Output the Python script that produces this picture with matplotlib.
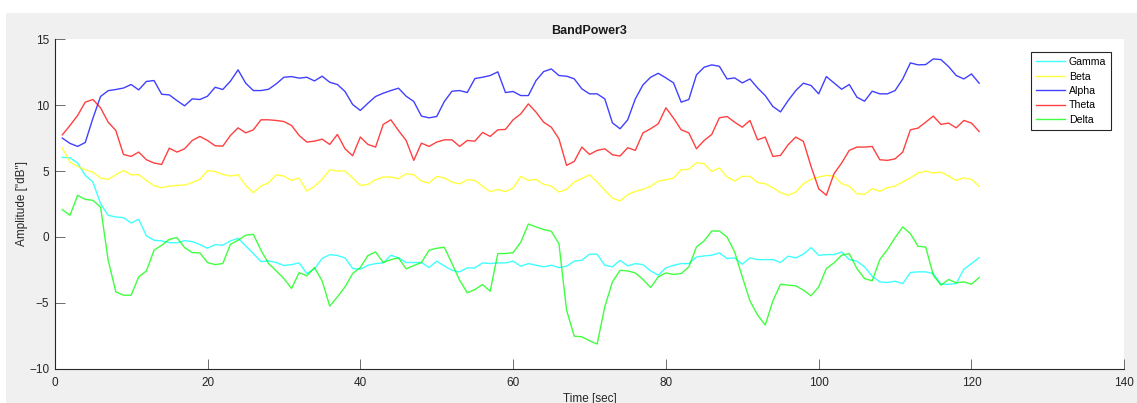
import numpy as np
import matplotlib
matplotlib.use("Agg")
import matplotlib.pyplot as plt
from matplotlib.patches import Rectangle

plt.rcParams['font.family'] = ['Liberation Sans', 'DejaVu Sans']

# time in seconds, one sample per second
t = np.arange(1, 122)

gamma = [6.04, 6.01, 5.61, 4.67, 4.17, 2.53, 1.64, 1.52, 1.46, 1.06, 1.34, 0.08, -0.25, -0.30, -0.43, -0.45, -0.28, -0.35, -0.58, -0.86, -0.58,
         -0.63, -0.30, -0.10, -0.68, -1.26, -1.87, -1.82, -1.94, -2.17, -2.10, -1.97, -2.78, -2.42, -1.64, -1.34, -1.41, -1.59, -2.40, -2.45, -2.15, -2.02,
         -1.97, -1.39, -1.59, -1.94, -1.94, -1.94, -2.32, -1.84, -2.20, -2.53, -2.65, -2.35, -2.35, -1.97, -2.02, -1.97, -1.97, -1.84, -2.22, -2.02, -2.15,
         -2.27, -2.15, -2.32, -2.22, -1.84, -1.77, -1.31, -1.31, -2.15, -2.27, -1.77, -2.20, -2.02, -2.10, -2.58, -2.90, -2.35, -2.15, -2.02, -2.02, -1.52,
         -1.44, -1.39, -1.21, -1.64, -1.59, -2.07, -1.59, -1.72, -1.72, -1.72, -1.94, -1.46, -1.59, -1.31, -0.81, -1.39, -1.34, -1.34, -1.14, -1.72, -1.84,
         -2.27, -2.98, -3.41, -3.46, -3.36, -3.54, -2.70, -2.65, -2.65, -2.78, -3.59, -3.59, -3.54, -2.45, -2.02, -1.57]

beta = [6.74, 5.68, 5.35, 5.10, 4.92, 4.47, 4.37, 4.72, 5.05, 4.72, 4.72, 4.29, 3.89, 3.74, 3.86, 3.91, 3.94, 4.12, 4.37, 5.03, 4.97,
        4.75, 4.62, 4.72, 3.91, 3.36, 3.86, 4.12, 4.72, 4.62, 4.29, 4.47, 3.48, 3.84, 4.37, 5.10, 5.00, 5.00, 4.49, 3.91, 3.99, 4.34,
        4.55, 4.55, 4.42, 4.80, 4.72, 4.24, 4.09, 4.60, 4.47, 4.17, 4.02, 4.34, 4.29, 3.86, 3.43, 3.61, 3.43, 3.71, 4.60, 4.29, 4.37,
        3.99, 3.86, 3.41, 3.61, 4.17, 4.42, 4.72, 4.17, 3.54, 2.95, 2.73, 3.21, 3.46, 3.61, 3.84, 4.24, 4.34, 4.47, 5.10, 5.13, 5.63,
        5.56, 4.97, 5.23, 4.55, 4.24, 4.60, 4.60, 4.12, 4.04, 3.74, 3.36, 3.16, 3.41, 4.04, 4.37, 4.55, 4.67, 4.62, 4.04, 3.86, 3.28,
        3.23, 3.66, 3.46, 3.74, 3.86, 4.17, 4.49, 4.85, 5.00, 4.85, 4.92, 4.62, 4.29, 4.49, 4.37, 3.84]

alpha = [7.50, 7.10, 6.87, 7.17, 9.00, 10.66, 11.10, 11.19, 11.30, 11.57, 11.16, 11.80, 11.87, 10.83, 10.78, 10.35, 9.95, 10.48, 10.43, 10.68, 11.36,
         11.19, 11.82, 12.68, 11.67, 11.11, 11.11, 11.21, 11.62, 12.12, 12.17, 12.05, 12.12, 11.84, 12.20, 11.74, 11.57, 11.04, 10.05, 9.60, 10.15, 10.66,
         10.91, 11.11, 11.29, 10.68, 10.28, 9.17, 9.04, 9.14, 10.28, 11.06, 11.11, 10.96, 12.02, 12.12, 12.25, 12.53, 10.96, 11.04, 10.73, 10.73, 11.87,
         12.55, 12.75, 12.25, 12.20, 12.00, 11.24, 10.86, 10.86, 10.48, 8.66, 8.21, 8.89, 10.48, 11.54, 12.12, 12.42, 12.07, 11.69, 10.23, 10.43, 12.30,
         12.88, 13.06, 12.95, 11.99, 12.07, 11.69, 11.99, 11.31, 10.73, 9.90, 9.49, 10.35, 11.11, 11.67, 11.49, 10.86, 12.17, 11.69, 11.21, 11.57, 10.61,
         10.30, 11.06, 10.86, 10.86, 11.11, 11.99, 13.21, 13.06, 13.08, 13.51, 13.46, 12.93, 12.25, 11.99, 12.37, 11.67]

theta = [7.75, 8.46, 9.22, 10.23, 10.43, 9.80, 8.71, 8.08, 6.26, 6.11, 6.44, 5.86, 5.61, 5.50, 6.74, 6.44, 6.69, 7.32, 7.63, 7.32, 6.92,
         6.89, 7.70, 8.28, 7.90, 8.13, 8.89, 8.89, 8.84, 8.76, 8.46, 7.70, 7.20, 7.27, 7.42, 7.02, 7.78, 6.69, 6.16, 7.58, 7.02, 6.82,
         8.54, 8.89, 8.08, 7.32, 5.81, 7.12, 6.87, 7.20, 7.37, 7.37, 6.87, 7.32, 7.27, 7.93, 7.63, 8.13, 8.16, 8.89, 9.34, 10.10, 9.47,
         8.71, 8.33, 7.45, 5.43, 5.73, 6.82, 6.26, 6.57, 6.69, 6.24, 6.14, 6.77, 6.57, 7.90, 8.21, 8.59, 9.80, 9.02, 8.13, 7.90, 6.69,
         7.32, 7.78, 9.04, 9.14, 8.71, 8.33, 8.84, 7.37, 7.58, 6.11, 6.19, 7.00, 7.58, 7.25, 5.35, 3.66, 3.16, 4.80, 5.61, 6.57, 6.82,
         6.82, 6.87, 5.86, 5.81, 5.93, 6.44, 8.13, 8.26, 8.71, 9.17, 8.54, 8.64, 8.28, 8.84, 8.64, 8.00]

delta = [2.07, 1.64, 3.16, 2.85, 2.78, 2.27, -1.77, -4.17, -4.42, -4.42, -3.03, -2.58, -1.01, -0.63, -0.18, -0.05, -0.81, -1.19, -1.21, -1.94, -2.10,
         -2.02, -0.56, -0.25, 0.13, 0.20, -1.01, -2.02, -2.58, -3.16, -3.91, -2.70, -2.95, -2.32, -3.33, -5.25, -4.55, -3.79, -2.78, -2.32, -1.41, -1.14,
         -1.94, -1.72, -1.59, -2.42, -2.17, -1.94, -1.01, -0.86, -0.78, -2.02, -3.28, -4.24, -3.99, -3.61, -4.12, -1.26, -1.26, -1.19, -0.40, 0.98, 0.76,
         0.56, 0.43, -0.51, -5.56, -7.53, -7.58, -7.88, -8.13, -5.30, -3.41, -2.53, -2.58, -2.73, -3.23, -3.84, -3.03, -2.73, -2.85, -2.78, -2.27, -0.76,
         -0.30, 0.45, 0.45, 0.00, -1.14, -3.03, -4.85, -5.93, -6.69, -4.85, -3.59, -3.66, -3.71, -4.04, -4.47, -3.79, -2.40, -1.97, -1.39, -1.26, -2.40,
         -3.16, -3.33, -1.72, -0.96, -0.05, 0.76, 0.25, -0.71, -0.76, -2.90, -3.66, -3.23, -3.48, -3.41, -3.59, -3.08]

names = ['Gamma', 'Beta', 'Alpha', 'Theta', 'Delta']
colors = ['#00ffff', '#ffff00', '#0000ff', '#ff0000', '#00ff00']

W, H = 1137, 403
fig = plt.figure(figsize=(W / 100, H / 100), dpi=100, facecolor='white')
# matlab style grey figure background (white strip on top/left)
fig.patches.append(Rectangle((6 / W, 0), 1, (H - 13) / H, transform=fig.transFigure,
                             facecolor='#f0f0f0', edgecolor='none', zorder=-10))

ax = fig.add_axes([54.7 / W, 1 - 368.7 / H, 1069.6 / W, 329.4 / H])
ax.set_facecolor('white')

for y, name, c in zip([gamma, beta, alpha, theta, delta], names, colors):
    ax.plot(t, y, color=c, lw=1.0, alpha=0.75, label=name)

ax.set_xlim(0, 140)
ax.set_ylim(-10, 15)
ax.set_xticks(np.arange(0, 141, 20))
ax.set_yticks(np.arange(-10, 16, 5))

for s in ['top', 'right']:
    ax.spines[s].set_visible(False)
for s in ['left', 'bottom']:
    ax.spines[s].set_color('#262626')
    ax.spines[s].set_linewidth(0.8)

ax.tick_params(direction='in', length=7.5, width=0.6, color='#555555',
               labelsize=8.5, labelcolor='#262626')
ax.tick_params(axis='x', pad=6)
ax.tick_params(axis='y', pad=4)

ax.set_title('BandPower3', fontsize=9, fontweight='bold', pad=4, color='#1a1a1a')
ax.set_xlabel('Time [sec]', fontsize=8.5, color='#262626', labelpad=3)
ax.set_ylabel('Amplitude [\'\'dB\'\']', fontsize=8.5, color='#262626')
ax.yaxis.set_label_coords(-0.025, 0.5)

leg = ax.legend(loc='upper right', bbox_to_anchor=(0.988, 0.962), borderaxespad=0,
                fontsize=7.6, fancybox=False, framealpha=1, edgecolor='#262626',
                handlelength=2.75, handletextpad=0.35, labelspacing=0.42,
                borderpad=0.5)
leg.get_frame().set_linewidth(0.8)

fig.savefig('out.png', dpi=100, facecolor=fig.get_facecolor())
